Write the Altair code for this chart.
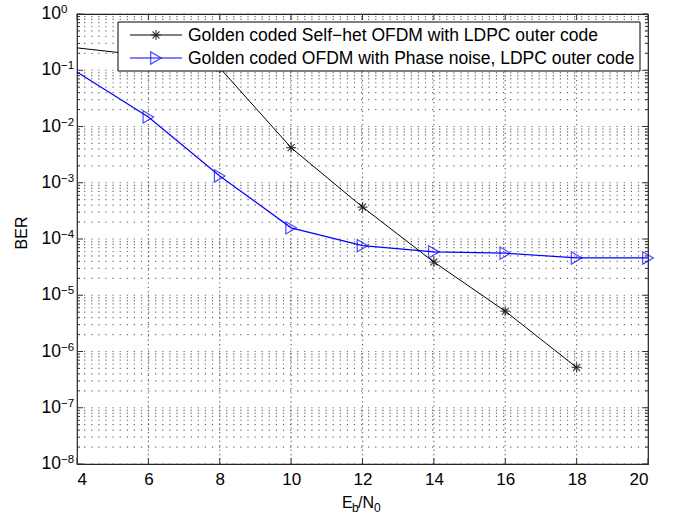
import altair as alt
import pandas as pd

# ---- data ----
x_black = [4, 6, 8, 10, 12, 14, 16, 18]
ber_black = [0.25, 0.18, 0.11, 4.2e-3, 3.7e-4, 3.9e-5, 5.2e-6, 5.2e-7]
x_blue = [4, 6, 8, 10, 12, 14, 16, 18, 20]
ber_blue = [0.093, 1.48e-2, 1.32e-3, 1.58e-4, 7.6e-5, 5.9e-5, 5.6e-5, 4.6e-5, 4.6e-5]

x_ticks = [4, 6, 8, 10, 12, 14, 16, 18, 20]
y_exps = [0, -1, -2, -3, -4, -5, -6, -7, -8]
y_exp_labels = ["0", "\u22121", "\u22122", "\u22123", "\u22124", "\u22125", "\u22126", "\u22127", "\u22128"]

legend_labels = ["Golden coded Self\u2212het OFDM with LDPC outer code",
                 "Golden coded OFDM with Phase noise, LDPC outer code"]

W, H = 571, 450
FONT = "Liberation Sans"
STAR = "M-1,0L1,0M0,-1L0,1M-0.7,-0.7L0.7,0.7M-0.7,0.7L0.7,-0.7"

df_black = pd.DataFrame({"x": x_black, "y": ber_black})
df_blue = pd.DataFrame({"x": x_blue, "y": ber_blue})

major_y = [10.0 ** e for e in y_exps]
minor_y = [k * 10.0 ** e for e in range(-8, 0) for k in range(2, 10)]
df_major_y = pd.DataFrame({"y": major_y, "exp": y_exp_labels})
df_minor_y = pd.DataFrame({"y": minor_y})
df_x = pd.DataFrame({"x": x_ticks})
df_x_inner = pd.DataFrame({"x": x_ticks[1:-1]})

xs = alt.Scale(domain=[4, 20], nice=False, zero=False)
ys = alt.Scale(type="log", domain=[1e-8, 1], nice=False)

XE = alt.X("x:Q", scale=xs,
           axis=alt.Axis(values=x_ticks, title=None, grid=False, ticks=False, domain=False,
                         labelFont=FONT, labelFontSize=17, labelColor="black", labelPadding=7))
YE = alt.Y("y:Q", scale=ys, axis=None)

grid_color = "#444444"
hgrid = alt.Chart(df_minor_y).mark_rule(
    color=grid_color, strokeWidth=1.2, strokeDash=[1.2, 5.9], opacity=0.8
).encode(y=YE, x=alt.value(0), x2=alt.value(W))
hgrid_major = alt.Chart(df_major_y).mark_rule(
    color=grid_color, strokeWidth=1.2, strokeDash=[1.2, 5.9], opacity=0.8
).encode(y=YE, x=alt.value(0), x2=alt.value(W))
vgrid = alt.Chart(df_x_inner).mark_rule(
    color=grid_color, strokeWidth=1.2, strokeDash=[1.2, 3.2], opacity=0.8
).encode(x=XE, y=alt.value(0), y2=alt.value(H))

# inside ticks (MATLAB style)
tk = "#333333"
lt_major = alt.Chart(df_major_y).mark_rule(color=tk).encode(y=YE, x=alt.value(0), x2=alt.value(6))
rt_major = alt.Chart(df_major_y).mark_rule(color=tk).encode(y=YE, x=alt.value(W - 6), x2=alt.value(W))
lt_minor = alt.Chart(df_minor_y).mark_rule(color=tk).encode(y=YE, x=alt.value(0), x2=alt.value(3))
rt_minor = alt.Chart(df_minor_y).mark_rule(color=tk).encode(y=YE, x=alt.value(W - 3), x2=alt.value(W))
bt = alt.Chart(df_x).mark_rule(color=tk).encode(x=XE, y=alt.value(H - 6), y2=alt.value(H))
tt = alt.Chart(df_x).mark_rule(color=tk).encode(x=XE, y=alt.value(0), y2=alt.value(6))

# y tick labels: "10" with superscript exponent
ylab_base = alt.Chart(df_major_y).mark_text(
    text="10", font=FONT, fontSize=17.5, align="right", baseline="middle", color="black"
).encode(y=YE, x=alt.value(-16))
ylab_exp = alt.Chart(df_major_y).mark_text(
    font=FONT, fontSize=11.5, align="left", baseline="alphabetic", color="black", dy=-1
).encode(y=YE, x=alt.value(-16), text=alt.Text("exp:N"))

one = alt.Data(values=[{"k": 0}])
ytitle = alt.Chart(one).mark_text(
    text="BER", font=FONT, fontSize=16, angle=270, align="center", baseline="middle", color="black"
).encode(x=alt.value(-55), y=alt.value(219))

line_black = alt.Chart(df_black).mark_line(color="black", strokeWidth=1).encode(x=XE, y=YE)
line_blue = alt.Chart(df_blue).mark_line(color="#0000ff", strokeWidth=1.2).encode(x=XE, y=YE)
pts_black = alt.Chart(df_black[df_black.x > 4]).mark_point(
    shape=STAR, size=100, color="black", strokeWidth=1.2, filled=False, clip=False
).encode(x=XE, y=YE)
pts_blue = alt.Chart(df_blue[df_blue.x > 4]).mark_point(
    shape="triangle-right", size=150, color="#0000ff", strokeWidth=1.2, filled=False, clip=False
).encode(x=XE, y=YE)

leg_box = alt.Chart(one).mark_rect(fill="white", stroke="black", strokeWidth=1).encode(
    x=alt.value(41), x2=alt.value(563), y=alt.value(8), y2=alt.value(57))
leg_l1 = alt.Chart(one).mark_rule(color="black", strokeWidth=1).encode(
    x=alt.value(53), x2=alt.value(105), y=alt.value(21))
leg_l2 = alt.Chart(one).mark_rule(color="#0000ff", strokeWidth=1.2).encode(
    x=alt.value(53), x2=alt.value(105), y=alt.value(44))
leg_p1 = alt.Chart(one).mark_point(shape=STAR, size=100, color="black", strokeWidth=1.2).encode(
    x=alt.value(79), y=alt.value(21))
leg_p2 = alt.Chart(one).mark_point(shape="triangle-right", size=150, color="#0000ff", strokeWidth=1.2).encode(
    x=alt.value(79), y=alt.value(44))
leg_t1 = alt.Chart(one).mark_text(text=legend_labels[0], font=FONT, fontSize=17.5, align="left",
                                  baseline="middle", color="black").encode(x=alt.value(111), y=alt.value(22))
leg_t2 = alt.Chart(one).mark_text(text=legend_labels[1], font=FONT, fontSize=17.5, align="left",
                                  baseline="middle", color="black").encode(x=alt.value(111), y=alt.value(45))

# x-axis title E_b/N_0 with subscripts
def txt(s, x, y, size):
    return alt.Chart(one).mark_text(text=s, font=FONT, fontSize=size, align="left",
                                    baseline="alphabetic", color="black").encode(
        x=alt.value(x), y=alt.value(y))

xt = [txt("E", 265, H + 44, 16), txt("b", 275, H + 48, 12), txt("/N", 281, H + 44, 16),
      txt("0", 297, H + 48, 12)]

chart = alt.layer(
    hgrid, hgrid_major, vgrid, lt_major, rt_major, lt_minor, rt_minor, bt, tt,
    line_black, line_blue, pts_black, pts_blue,
    leg_box, leg_l1, leg_l2, leg_p1, leg_p2, leg_t1, leg_t2,
    ylab_base, ylab_exp, ytitle, *xt
).properties(
    width=W, height=H, background="white",
    autosize=alt.AutoSizeParams(type="none"),
    padding={"left": 77, "top": 14, "right": 27, "bottom": 50}
).configure_view(stroke="#222222", strokeWidth=1.2)

chart.save("out.html", embed_options={"renderer": "svg", "actions": False})
